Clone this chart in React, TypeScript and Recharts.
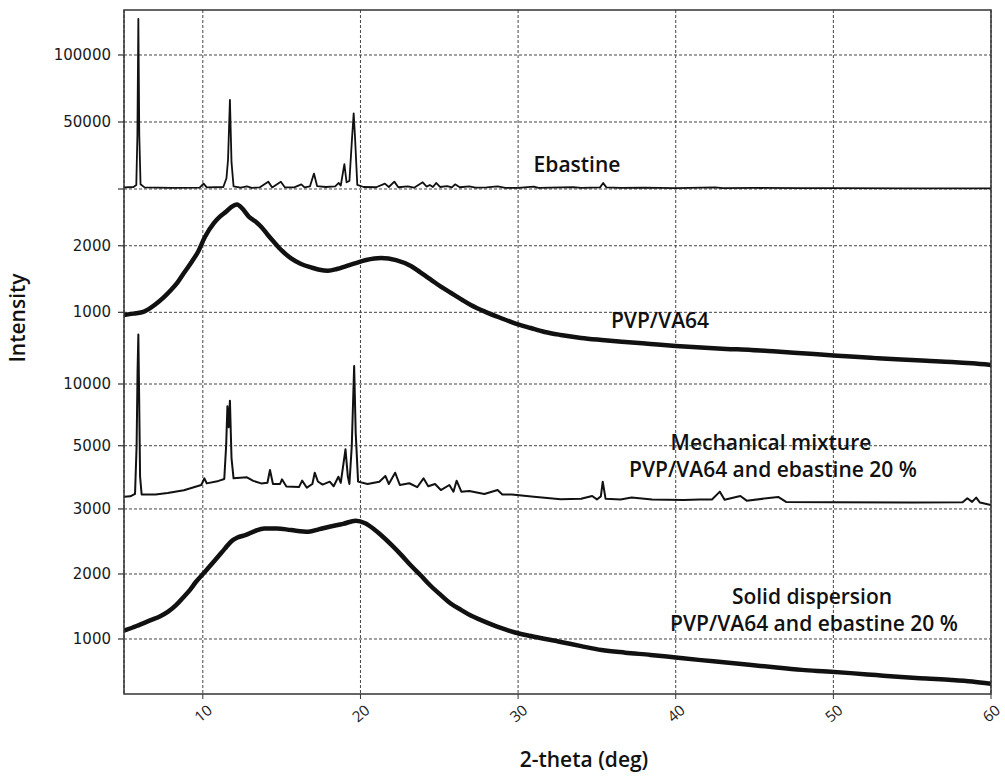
import React from "react";
import { LineChart, Line, XAxis, YAxis, CartesianGrid, ReferenceLine } from "recharts";

// 2-theta ticks
const xTicks = [10, 20, 30, 40, 50, 60];

// y ticks per trace (each trace has its own hidden axis)
const ebastineTicks = [0, 50000, 100000];
const ebastineTickLabels = ["", "50000", "100000"];
const pvpTicks = [1000, 2000];
const pvpTickLabels = ["1000", "2000"];
const mixTicks = [5000, 10000];
const mixTickLabels = ["5000", "10000"];
const sdTicks = [1000, 2000, 3000];
const sdTickLabels = ["1000", "2000", "3000"];

// [2-theta, intensity]
const ebastine: [number, number][] = [
  [5.0, 1200], [5.6, 1500], [5.78, 3000], [5.85, 40000], [5.91, 127000], [5.97, 40000], [6.05, 3500],
  [6.3, 1200], [8.0, 800], [9.8, 1000], [10.05, 4000], [10.25, 1200], [11.3, 1500], [11.5, 8000],
  [11.6, 22000], [11.72, 66500], [11.82, 20000], [11.95, 2000], [12.4, 1000], [12.8, 2000], [13.1, 900],
  [13.6, 1200], [14.15, 5500], [14.4, 1200], [14.95, 5400], [15.2, 1300], [15.8, 1200], [16.25, 3500],
  [16.45, 1200], [16.8, 2000], [17.05, 11500], [17.25, 2200], [17.8, 1500], [18.4, 2000], [18.62, 4500],
  [18.75, 2500], [18.98, 18500], [19.12, 5000], [19.3, 6000], [19.45, 35000], [19.57, 56500],
  [19.65, 40000], [19.8, 3000], [20.2, 1500], [21.0, 1300], [21.55, 4000], [21.8, 1500], [22.15, 5500],
  [22.4, 1300], [23.0, 2000], [23.4, 1000], [23.95, 5000], [24.2, 1800], [24.4, 3000], [24.6, 1500],
  [24.8, 4500], [25.05, 1500], [25.5, 2200], [25.8, 1200], [26.0, 3500], [26.3, 1300], [26.9, 2000],
  [27.3, 1000], [28.0, 1200], [28.7, 2000], [29.2, 900], [30.0, 800], [31.0, 1800], [31.3, 800],
  [32.0, 1000], [33.5, 1400], [34.0, 800], [35.2, 1200], [35.4, 4500], [35.6, 1200], [36.5, 800],
  [38.0, 1000], [40.0, 700], [42.5, 1200], [43.0, 700], [45.0, 800], [48.0, 600], [50.0, 700],
  [55.0, 500], [60.0, 400],
];

const pvpVa64: [number, number][] = [
  [5.0, 960], [5.6, 980], [6.27, 1010], [7.0, 1120], [7.5, 1220], [7.98, 1335], [8.4, 1450], [8.8, 1590],
  [9.3, 1760], [9.7, 1910], [10.14, 2135], [10.7, 2340], [11.1, 2440], [11.47, 2510], [11.8, 2580],
  [12.17, 2620], [12.5, 2560], [12.93, 2435], [13.3, 2370], [13.7, 2285], [14.1, 2170], [14.5, 2060],
  [15.0, 1930], [15.6, 1810], [16.2, 1730], [16.87, 1675], [17.4, 1640], [17.94, 1625], [18.5, 1650],
  [19.1, 1695], [19.7, 1740], [20.36, 1785], [21.3, 1815], [22.26, 1785], [23.2, 1695], [23.8, 1600],
  [24.5, 1485], [25.1, 1385], [25.75, 1290], [26.4, 1195], [27.0, 1110], [28.0, 1000], [28.9, 915],
  [29.8, 835], [30.8, 765], [31.7, 705], [32.7, 660], [34.0, 615], [35.3, 585], [36.8, 555], [38.4, 525],
  [40.0, 495], [41.6, 470], [43.2, 450], [44.8, 435], [46.4, 410], [48.0, 385], [49.6, 360], [51.1, 335],
  [52.7, 312], [54.3, 290], [55.9, 272], [57.5, 255], [58.8, 235], [60.0, 210],
];

const mixture: [number, number][] = [
  [5.0, 870], [5.4, 900], [5.7, 1100], [5.8, 5000], [5.86, 11000], [5.91, 14000], [5.96, 9000],
  [6.02, 2500], [6.12, 1050], [7.0, 1050], [7.77, 1170], [8.8, 1400], [9.9, 1820], [10.1, 2360],
  [10.25, 1950], [11.0, 2150], [11.36, 2300], [11.48, 5000], [11.56, 8200], [11.64, 6500], [11.72, 8650],
  [11.82, 4000], [11.95, 2360], [12.8, 2440], [13.2, 2150], [13.7, 1950], [14.1, 2000], [14.26, 3030],
  [14.45, 1900], [14.9, 1900], [15.02, 2280], [15.3, 1700], [16.1, 1650], [16.3, 2170], [16.6, 1600],
  [16.95, 1900], [17.1, 2815], [17.3, 2100], [17.6, 1850], [18.05, 2090], [18.3, 1720], [18.6, 2490],
  [18.75, 2000], [19.05, 4710], [19.2, 2500], [19.3, 1900], [19.45, 5000], [19.6, 11460], [19.7, 6000],
  [19.85, 2090], [20.45, 1900], [21.2, 2090], [21.58, 2550], [21.8, 1900], [22.2, 2815], [22.5, 1820],
  [23.1, 1960], [23.6, 1640], [24.0, 2360], [24.3, 1720], [24.73, 1900], [25.1, 1410], [25.64, 1820],
  [25.9, 1280], [26.1, 2170], [26.4, 1280], [26.9, 1330], [27.86, 1090], [28.7, 1410], [29.0, 1050],
  [29.6, 1050], [31.0, 870], [32.7, 660], [34.0, 700], [34.7, 930], [35.0, 650], [35.25, 900],
  [35.37, 2090], [35.55, 700], [36.5, 650], [37.2, 800], [38.5, 650], [40.5, 600], [41.5, 650],
  [42.3, 650], [42.8, 1280], [43.1, 620], [44.1, 930], [44.5, 550], [46.5, 850], [47.0, 450],
  [50.0, 420], [55.0, 400], [58.2, 420], [58.5, 740], [58.8, 450], [59.06, 800], [59.3, 400], [60.0, 200],
];

const solidDispersion: [number, number][] = [
  [5.0, 1128], [5.8, 1200], [6.7, 1290], [7.3, 1350], [7.8, 1420], [8.3, 1520], [8.8, 1650],
  [9.2, 1760], [9.57, 1880], [10.14, 2035], [10.55, 2150], [10.96, 2265], [11.4, 2390], [11.8, 2500],
  [12.2, 2560], [12.74, 2600], [13.3, 2660], [13.9, 2700], [14.7, 2700], [15.6, 2675], [16.7, 2650],
  [17.4, 2690], [18.1, 2730], [18.9, 2770], [19.7, 2820], [20.3, 2780], [20.8, 2700], [21.3, 2600],
  [22.0, 2440], [22.6, 2290], [23.2, 2130], [23.8, 1985], [24.4, 1830], [25.1, 1675], [25.7, 1550],
  [26.4, 1445], [27.0, 1360], [27.65, 1290], [28.9, 1170], [29.8, 1100], [30.8, 1045], [32.7, 955],
  [34.0, 890], [35.3, 830], [36.8, 790], [38.4, 755], [40.0, 715], [41.6, 675], [43.2, 640],
  [44.8, 600], [46.4, 560], [48.0, 525], [49.6, 500], [51.1, 475], [52.7, 445], [54.3, 415],
  [55.9, 392], [57.5, 370], [58.8, 345], [60.0, 310],
];

const toRows = (pts: [number, number][]) => pts.map(([x, y]) => ({ x, y }));

const W = 1005;
const H = 776;
const PLOT = { left: 124, top: 10, right: 991, bottom: 694 };
const gridStroke = "#444";
const dash = "3 2";
const textFont = "'Open Sans', sans-serif";

const yTickLabel = (text: string) => (props: any) => {
  const vb = props.viewBox || {};
  const x = vb.x ?? PLOT.left;
  const y = vb.y ?? 0;
  return (
    <g>
      <line x1={x - 6} x2={x} y1={y} y2={y} stroke="#333" strokeWidth={1.2} />
      {text && (
        <text x={x - 13} y={y} textAnchor="end" dominantBaseline="central"
          fontFamily="'DejaVu Sans', sans-serif" fontSize={15} fill="#1a1a1a">
          {text}
        </text>
      )}
    </g>
  );
};

const XTick = ({ x, y, payload }: any) => (
  <text transform={`translate(${x},${y + 12}) rotate(-40)`} textAnchor="middle" dominantBaseline="central"
    fontFamily={textFont} fontSize={15} fill="#1a1a1a">
    {payload.value}
  </text>
);

const gridLines = (axisId: string, ticks: number[], labels: string[]) =>
  ticks.map((t, i) => (
    <ReferenceLine key={axisId + t} yAxisId={axisId} y={t} stroke={gridStroke} strokeDasharray={dash}
      strokeWidth={1} label={yTickLabel(labels[i])} />
  ));

export default function App() {
  return (
    <div style={{ position: "absolute", left: 0, top: 0, width: W, height: H, background: "#fff" }}>
      <LineChart width={W} height={H}
        margin={{ top: PLOT.top, right: W - PLOT.right, bottom: H - PLOT.bottom - 60, left: PLOT.left }}>
        <CartesianGrid yAxisId="eb" horizontal={false} stroke={gridStroke} strokeDasharray={dash} />
        <XAxis type="number" dataKey="x" domain={[5, 60]} ticks={xTicks} allowDataOverflow height={60}
          axisLine={false} tickLine={{ stroke: "#333" }} tickSize={5} tick={<XTick />} interval={0} />
        <YAxis yAxisId="eb" type="number" domain={[-376866, 133582]} hide allowDataOverflow />
        <YAxis yAxisId="pvp" type="number" domain={[-4733, 5541]} hide allowDataOverflow />
        <YAxis yAxisId="mix" type="number" domain={[-15110, 40294]} hide allowDataOverflow />
        <YAxis yAxisId="sd" type="number" domain={[154, 10674]} hide allowDataOverflow />
        {gridLines("eb", ebastineTicks, ebastineTickLabels)}
        {gridLines("pvp", pvpTicks, pvpTickLabels)}
        {gridLines("mix", mixTicks, mixTickLabels)}
        {gridLines("sd", sdTicks, sdTickLabels)}
        <Line yAxisId="eb" data={toRows(ebastine)} dataKey="y" type="linear" stroke="#111" strokeWidth={1.8}
          strokeLinejoin="round" dot={false} isAnimationActive={false} />
        <Line yAxisId="pvp" data={toRows(pvpVa64)} dataKey="y" type="monotone" stroke="#111" strokeWidth={4.5}
          dot={false} isAnimationActive={false} />
        <Line yAxisId="mix" data={toRows(mixture)} dataKey="y" type="linear" stroke="#111" strokeWidth={2}
          strokeLinejoin="round" dot={false} isAnimationActive={false} />
        <Line yAxisId="sd" data={toRows(solidDispersion)} dataKey="y" type="monotone" stroke="#111" strokeWidth={4.5}
          dot={false} isAnimationActive={false} />
      </LineChart>
      <svg width={W} height={H} style={{ position: "absolute", left: 0, top: 0, pointerEvents: "none" }}>
        <rect x={PLOT.left} y={PLOT.top} width={PLOT.right - PLOT.left} height={PLOT.bottom - PLOT.top}
          fill="none" stroke="#333" strokeWidth={1.5} />
        <g fontFamily={textFont} fontWeight={600} fontSize={21} fill="#111" textAnchor="middle">
          <text x={577} y={172}>Ebastine</text>
          <text x={660} y={328}>PVP/VA64</text>
          <text x={771} y={450}>Mechanical mixture</text>
          <text x={773} y={477}>PVP/VA64 and ebastine 20 %</text>
          <text x={812} y={604}>Solid dispersion</text>
          <text x={814} y={631}>PVP/VA64 and ebastine 20 %</text>
          <text x={584} y={767}>2-theta (deg)</text>
          <text transform="translate(25,318) rotate(-90)">Intensity</text>
        </g>
      </svg>
    </div>
  );
}
